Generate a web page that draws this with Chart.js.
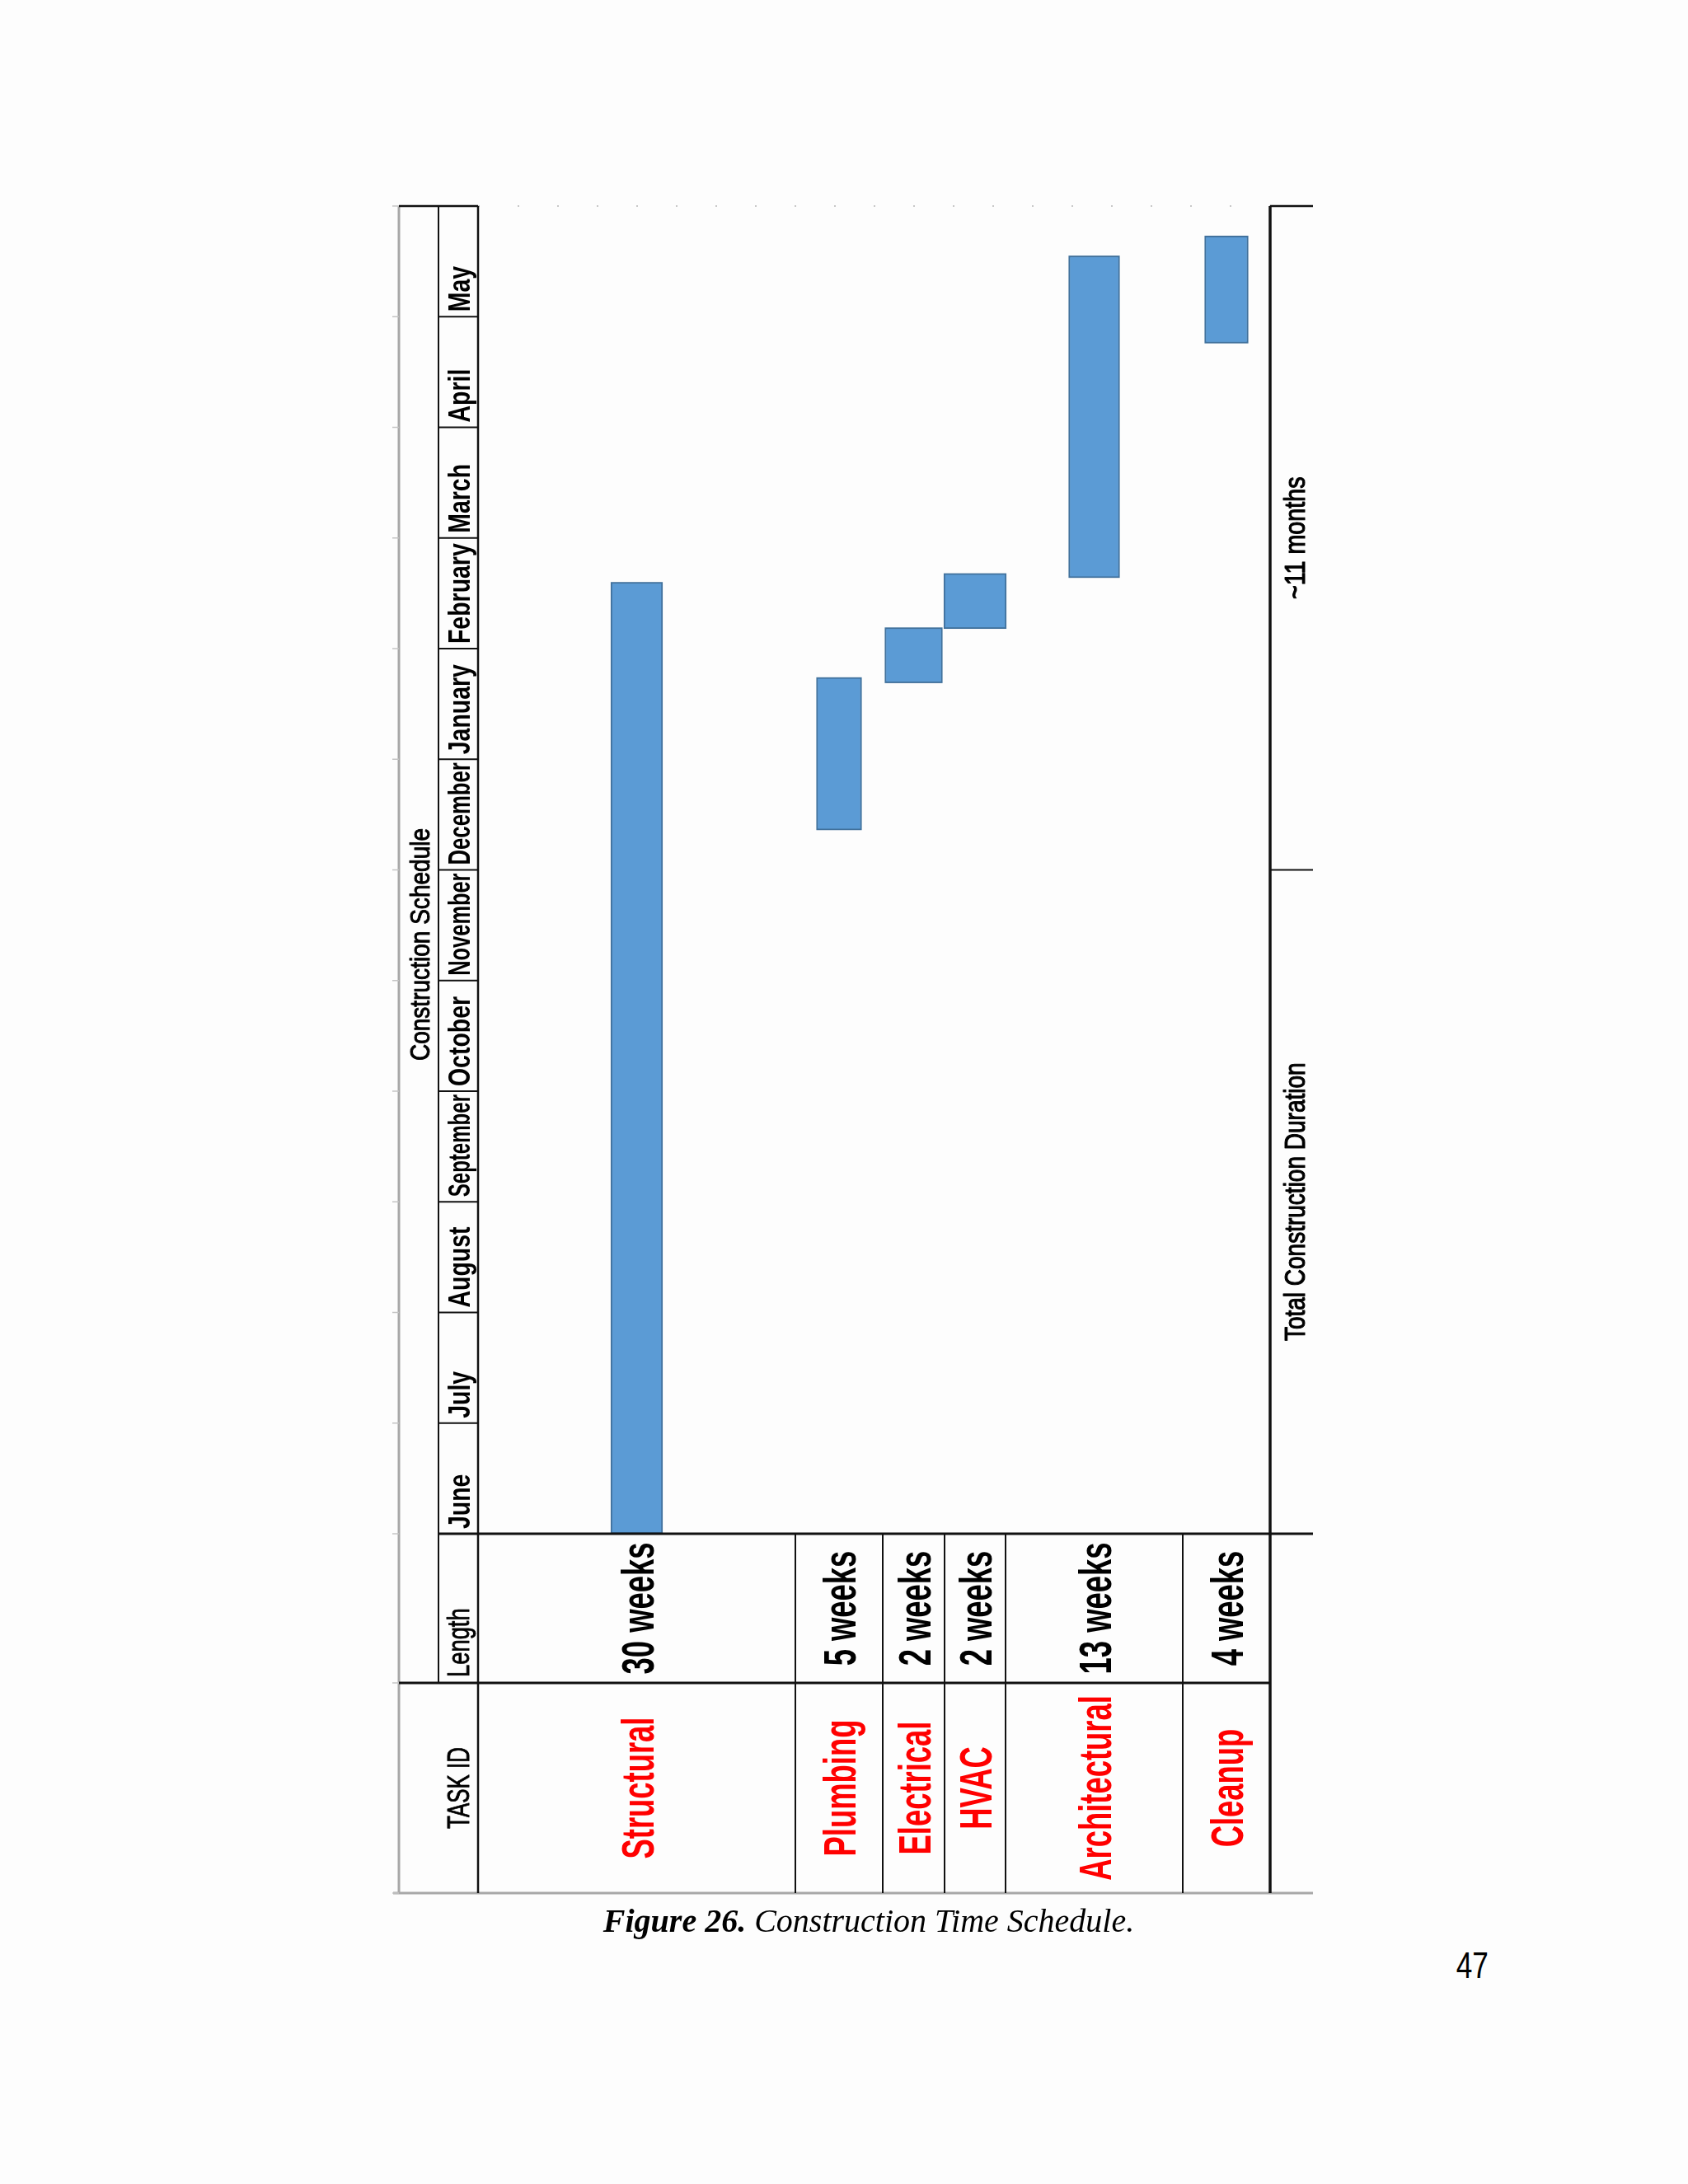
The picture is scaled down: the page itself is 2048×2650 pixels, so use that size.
<!DOCTYPE html>
<html>
<head>
<meta charset="utf-8">
<title>Construction Time Schedule</title>
<script src="https://cdn.jsdelivr.net/npm/chart.js@4.4.1/dist/chart.umd.min.js"></script>
<style>
  html, body { margin: 0; padding: 0; width: 2048px; height: 2650px; overflow: hidden; background: #fdfdfd; }
  /* the chart is drawn landscape, then turned a quarter turn like the scanned page */
  #wrap { position: absolute; left: 474px; top: 2310px; width: 2070px; height: 1130px;
          transform-origin: 0 0; transform: rotate(-90deg); }
  #caption { position: absolute; left: 0; top: 2311px; width: 2108px; text-align: center;
             font: italic 40px "Liberation Serif", "Times New Roman", serif; line-height: 40px; color: #000; }
  #caption b { font-weight: bold; }
  #pageno { position: absolute; right: 242px; top: 2363px; font: 44px "Liberation Sans", Arial, sans-serif;
            line-height: 44px; color: #000; transform: scaleX(0.8); transform-origin: right top; }
</style>
</head>
<body>
<div id="wrap"><canvas id="gantt" width="2070" height="1130"></canvas></div>
<div id="caption"><b>Figure 26.</b> Construction Time Schedule.</div>
<div id="pageno">47</div>
<script>
"use strict";

// data (time in months from the start of June)
const months = ["June", "July", "August", "September", "October", "November",
                "December", "January", "February", "March", "April", "May"];
const tasks = ["Structural", "Plumbing", "Electrical", "HVAC", "Architectural", "Cleanup"];
const lengthWeeks = [30, 5, 2, 2, 13, 4];
const startMonth = [0, 6.36, 7.69, 8.18, 8.64, 10.76];
const endMonth = [8.6, 7.74, 8.19, 8.68, 11.55, 11.73];
const totalLabel = "Total Construction Duration";
const totalValue = "~11 months";
const totalSplit = 6; // month where the duration cell is split

// layout (canvas is landscape: u across, v down)
const rowSize = [385, 106, 75, 74, 215, 106];
const barPx = [63, 55, 70, 76, 62, 53];
const U_TASK = 13, U_LEN = 268;
const V_OUT = 10, V_HEAD = 58, V_RIGHT = 1119;
const SANS = "'Liberation Sans', Arial, sans-serif";

// row centres on the task scale
const rowCenter = [];
let acc = 0;
rowSize.forEach((s) => { rowCenter.push(acc + s / 2); acc += s; });
const rowTotal = acc;

// stroke > 0 thickens regular text a little (the scan looks semi-bold)
function text(ctx, str, u, v, font, color, squeeze, align, stroke) {
  ctx.save();
  ctx.translate(u, v);
  ctx.scale(squeeze, 1);
  ctx.font = font;
  ctx.fillStyle = color;
  ctx.textAlign = align;
  ctx.textBaseline = "alphabetic";
  ctx.fillText(str, 0, 0);
  if (stroke) {
    ctx.lineWidth = stroke;
    ctx.strokeStyle = color;
    ctx.lineJoin = "round";
    ctx.strokeText(str, 0, 0);
  }
  ctx.restore();
}

function fitText(ctx, str, u, v, font, color, squeeze, maxW) {
  ctx.font = font;
  const w = ctx.measureText(str).width;
  text(ctx, str, u, v, font, color, Math.min(squeeze, maxW / w), "left", 0);
}

function line(ctx, u1, v1, u2, v2, width, color) {
  ctx.beginPath();
  ctx.lineWidth = width;
  ctx.strokeStyle = color;
  ctx.moveTo(u1, v1);
  ctx.lineTo(u2, v2);
  ctx.stroke();
}

// table around the bars: headers, month cells, task and length columns
const scheduleTable = {
  id: "scheduleTable",
  afterDraw(chart) {
    const ctx = chart.ctx;
    const xs = chart.scales.x;
    const ys = chart.scales.y;
    const a = chart.chartArea;
    const uStart = xs.getPixelForValue(0);
    const uEnd = xs.getPixelForValue(months.length);
    const uSplit = xs.getPixelForValue(totalSplit);
    const dark = "#111";
    const grey = "#a8a8a8";

    ctx.save();
    // outer grey frame and little tick marks
    line(ctx, U_TASK, V_OUT, uEnd, V_OUT, 3, grey);
    line(ctx, U_TASK, 3, U_TASK, V_RIGHT, 3, grey);
    const ticks = [U_TASK, U_LEN];
    for (let i = 0; i <= months.length; i++) ticks.push(xs.getPixelForValue(i));
    ticks.forEach((u) => line(ctx, u, 2, u, V_OUT, 1.5, "#c4c4c4"));

    // dotted top edge over the plot area
    ctx.setLineDash([2, 46]);
    line(ctx, uEnd, a.top, uEnd, a.bottom, 2, "#c8c8c8");
    ctx.setLineDash([]);
    line(ctx, uEnd, V_OUT, uEnd, a.top, 2.5, dark);
    line(ctx, uEnd, a.bottom, uEnd, V_RIGHT, 2.5, dark);

    // month header column
    line(ctx, U_LEN, V_HEAD, uEnd, V_HEAD, 2, dark);
    line(ctx, U_TASK, a.top, uEnd, a.top, 2.5, dark);
    for (let i = 1; i < months.length; i++) {
      const u = xs.getPixelForValue(i);
      line(ctx, u, V_HEAD, u, a.top, 2, dark);
    }
    months.forEach((m, i) => {
      const u = xs.getPixelForValue(i);
      const w = xs.getPixelForValue(i + 1) - u;
      fitText(ctx, m, u + 6, 96, "bold 36px " + SANS, "#000", 0.79, w - 10);
    });

    // thick lines: start of June, header rule, right edge of the task rows
    line(ctx, uStart, V_HEAD, uStart, V_RIGHT, 3, dark);
    line(ctx, U_LEN, V_OUT, U_LEN, a.bottom, 3, dark);
    line(ctx, U_TASK, a.bottom, uEnd, a.bottom, 3.5, dark);

    // row dividers in the task and length columns
    let edge = 0;
    rowSize.slice(0, -1).forEach((s) => {
      edge += s;
      const v = ys.getPixelForValue(edge);
      line(ctx, U_TASK, v, uStart, v, 2, dark);
    });

    // total duration cell split
    line(ctx, uSplit, a.bottom, uSplit, V_RIGHT, 2, dark);

    // header texts
    text(ctx, "Construction Schedule", (U_LEN + uEnd) / 2, 47, "33px " + SANS, "#000", 0.85, "center", 1);
    text(ctx, "Length", U_LEN + 7, 95, "36px " + SANS, "#000", 0.76, "left", 0.8);
    text(ctx, "TASK ID", (U_TASK + U_LEN) / 2, 95, "36px " + SANS, "#000", 0.72, "center", 0.8);

    // task names and lengths
    tasks.forEach((t, i) => {
      const v = ys.getPixelForValue(rowCenter[i]) + 20;
      text(ctx, t, (U_TASK + U_LEN) / 2, v, "bold 56px " + SANS, "#ff0000", 0.65, "center", 0);
      text(ctx, lengthWeeks[i] + " weeks", (U_LEN + uStart) / 2, v, "bold 56px " + SANS, "#000", 0.65, "center", 0);
    });

    text(ctx, totalLabel, (uStart + uSplit) / 2, 1109, "35px " + SANS, "#000", 0.8, "center", 1.2);
    text(ctx, totalValue, (uSplit + uEnd) / 2, 1109, "35px " + SANS, "#000", 0.82, "center", 1.2);
    ctx.restore();
  },
};

// one dataset per task so each bar keeps its own thickness
const datasets = tasks.map((t, i) => ({
  label: t,
  data: [{ x: [startMonth[i], endMonth[i]], y: rowCenter[i] }],
  backgroundColor: "#5b9bd5",
  borderColor: "#41719c",
  borderWidth: 2,
  borderSkipped: false,
  barThickness: barPx[i],
  grouped: false,
}));

new Chart(document.getElementById("gantt"), {
  type: "bar",
  data: { datasets: datasets },
  options: {
    indexAxis: "y",
    responsive: false,
    animation: false,
    devicePixelRatio: 1,
    layout: { padding: { left: 449, right: 10, top: 106, bottom: 63 } },
    scales: {
      x: { type: "linear", min: 0, max: months.length, display: false },
      y: { type: "linear", min: 0, max: rowTotal, reverse: true, offset: false, display: false },
    },
    plugins: {
      legend: { display: false },
      tooltip: { enabled: false },
      title: { display: false },
    },
  },
  plugins: [scheduleTable],
});
</script>
</body>
</html>
